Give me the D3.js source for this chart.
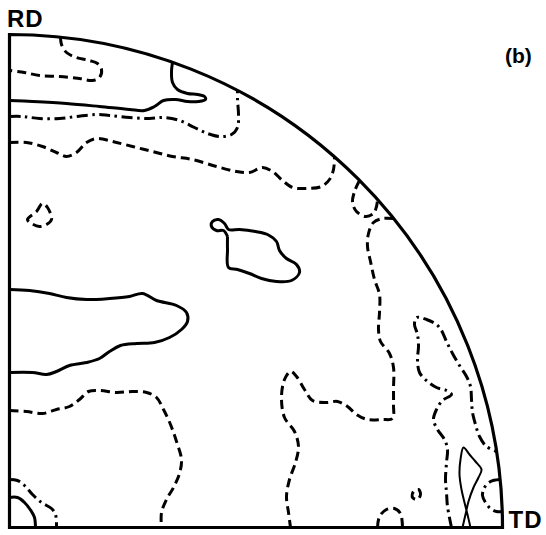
<!DOCTYPE html>
<html>
<head>
<meta charset="utf-8">
<script src="https://cdn.jsdelivr.net/npm/d3@7"></script>
<style>
  html, body { margin: 0; padding: 0; background: #fff; }
  svg { display: block; }
  .lbl { font-family: "Liberation Sans", Arial, sans-serif; font-weight: 700; fill: #000; }
</style>
</head>
<body>
<svg id="pf" width="546" height="535"></svg>
<script>
// Pole figure quadrant: x runs towards TD, y towards RD.
// Coordinates are in projection units; the net radius is NET_RADIUS.
const NET_RADIUS = 493;

const axisLabels = ["RD", "TD"];
const panelLabel = "(b)";

// contour levels: 1 = lowest (dashed), 2 = middle (dash-dot), 3 = highest (solid)
const contourLevels = [1, 2, 3];

// --- contour traces ---
const rdEdgeLow = [[51,490],[52,483],[57,475],[67,470],[80,467],[88,464],[92,458],[90,450],[83,447],[70,449],[50,451],[30,452],[15,455],[0,457]];
const rdBandHigh = [[163,465],[162,456],[163,445],[168,438],[178,434],[188,433],[195,431],[196,428],[189,426],[178,426],[166,428],[154,427],[145,421],[135,417],[120,418],[90,421],[57,424],[23,426],[0,427]];
const rdBandMid = [[0,411],[13,411],[30,409],[50,409],[67,411],[87,413],[100,412],[120,410],[140,409],[155,410],[170,407],[185,400],[198,394],[210,391],[222,393],[228,400],[229,413],[228,428],[228,437]];
const rdBandLow = [[0,385],[17,385],[33,381],[47,375],[57,371],[67,375],[77,385],[87,389],[103,386],[123,381],[143,376],[163,371],[183,368],[207,361],[227,356],[240,355],[253,360],[263,356],[273,347],[283,340],[297,339],[312,341],[320,348],[324,358],[325,371]];
const rimPocketLow = [[350,347],[345,336],[343,325],[347,316],[356,311],[364,314],[367,321],[368,328]];
const tdRegionLow = [[384,309],[373,309],[364,305],[359,294],[358,281],[361,266],[365,248],[370,233],[370,215],[369,198],[371,186],[380,174],[384,160],[384,138],[384,123],[383,109],[373,108],[358,108],[347,113],[338,121],[328,126],[317,125],[303,127],[295,138],[287,151],[281,156],[275,148],[272,130],[275,110],[285,96],[289,81],[286,65],[280,48],[277,31],[279,15],[281,0]];
const centreIslandHigh = [[218,291],[218,278],[219,260],[228,258],[240,254],[252,249],[267,246],[282,247],[290,255],[287,263],[277,269],[270,277],[267,286],[258,293],[246,296],[230,298],[219,298],[215,304],[209,308],[203,306],[202,301],[207,297],[214,297],[218,291]];
const leftIslandLow = [[18,308],[27,316],[33,324],[38,320],[42,308],[37,303],[30,301],[22,304]];
const midTongueHigh = [[0,238],[20,237],[40,234],[57,230],[77,228],[100,229],[120,231],[133,234],[147,227],[167,222],[177,215],[178,206],[172,198],[160,190],[145,185],[127,184],[111,182],[100,176],[90,169],[77,165],[60,162],[47,156],[37,153],[23,155],[0,155]];
const lowerLeftLow = [[0,117],[17,116],[33,114],[47,118],[60,121],[70,128],[79,136],[90,137],[107,135],[123,136],[137,135],[147,130],[154,118],[161,103],[167,86],[172,68],[170,54],[164,40],[157,28],[152,15],[152,0]];
const cornerMid = [[0,48],[8,47],[15,42],[23,33],[32,25],[42,19],[46,13],[47,0]];
const cornerHigh = [[0,30],[8,30],[15,25],[22,16],[25,10],[26,0]];
const tdArchLow = [[368,0],[370,11],[377,18],[385,19],[391,14],[393,0]];
const tdSpeckLow = [[404,36],[409,38],[411,33],[408,28],[403,30]];
const tdRidgeMid = [[442,0],[438,21],[437,35],[436,48],[437,65],[438,78],[435,88],[428,98],[424,108],[427,118],[433,127],[442,133],[437,137],[427,140],[418,146],[410,155],[408,168],[409,181],[408,193],[405,203],[407,210],[417,208],[427,203],[432,197],[437,186],[443,174],[450,162],[457,151],[461,141],[462,128],[463,115],[466,103],[470,91],[477,81],[487,76]];
const tdPeakHigh = [[453,0],[456,13],[459,26],[464,40],[469,50],[472,58],[466,66],[460,73],[454,80],[451,68],[450,53],[452,38],[455,25],[458,13],[461,0]];
const tdRimMid = [[490,48],[481,46],[475,40],[473,32],[476,25],[481,19],[487,16],[492,16]];

const contours = [
  { level: 1, pts: rdEdgeLow },
  { level: 3, pts: rdBandHigh },
  { level: 2, pts: rdBandMid },
  { level: 1, pts: rdBandLow },
  { level: 1, pts: rimPocketLow },
  { level: 1, pts: tdRegionLow },
  { level: 3, pts: centreIslandHigh },
  { level: 1, pts: leftIslandLow, closed: true },
  { level: 3, pts: midTongueHigh },
  { level: 1, pts: lowerLeftLow },
  { level: 2, pts: cornerMid },
  { level: 3, pts: cornerHigh },
  { level: 1, pts: tdArchLow },
  { level: 1, pts: tdSpeckLow, closed: true },
  { level: 2, pts: tdRidgeMid },
  { level: 3, pts: tdPeakHigh, thin: true },
  { level: 2, pts: tdRimMid }
];

// --- drawing ---
const svg = d3.select("#pf");
const origin = { x: 9.5, y: 527.5 };

const x = d3.scaleLinear().domain([0, NET_RADIUS]).range([origin.x, origin.x + NET_RADIUS]);
const y = d3.scaleLinear().domain([0, NET_RADIUS]).range([origin.y, origin.y - NET_RADIUS]);

const levelStyle = {
  1: { dash: "9,5" },
  2: { dash: "11,4.5,2.5,4.5" },
  3: { dash: null }
};

const openLine = d3.line().x(d => x(d[0])).y(d => y(d[1])).curve(d3.curveCatmullRom.alpha(0.5));
const closedLine = d3.line().x(d => x(d[0])).y(d => y(d[1])).curve(d3.curveCatmullRomClosed.alpha(0.5));

svg.append("g")
  .selectAll("path")
  .data(contours)
  .join("path")
  .attr("d", c => (c.closed ? closedLine : openLine)(c.pts))
  .attr("fill", "none")
  .attr("stroke", "#000")
  .attr("stroke-width", c => c.thin ? 2 : 3)
  .attr("stroke-linejoin", "round")
  .attr("stroke-dasharray", c => levelStyle[c.level].dash);

// quadrant outline: two axes and the primitive circle
const quadrant = d3.arc()
  .innerRadius(0)
  .outerRadius(x(NET_RADIUS) - x(0))
  .startAngle(0)
  .endAngle(Math.PI / 2);

svg.append("path")
  .attr("transform", `translate(${x(0)},${y(0)})`)
  .attr("d", quadrant())
  .attr("fill", "none")
  .attr("stroke", "#000")
  .attr("stroke-width", 3.2)
  .attr("stroke-linejoin", "miter");

// labels
svg.append("text").attr("class", "lbl")
  .attr("x", x(0) - 2.5).attr("y", y(NET_RADIUS) - 8)
  .attr("font-size", 24)
  .attr("letter-spacing", 1)
  .text(axisLabels[0]);

svg.append("text").attr("class", "lbl")
  .attr("x", x(NET_RADIUS) + 6).attr("y", y(0) + 0.5)
  .attr("font-size", 24)
  .attr("letter-spacing", 1)
  .text(axisLabels[1]);

svg.append("text").attr("class", "lbl")
  .attr("x", 505).attr("y", 63)
  .attr("font-size", 21)
  .text(panelLabel);
</script>
</body>
</html>
